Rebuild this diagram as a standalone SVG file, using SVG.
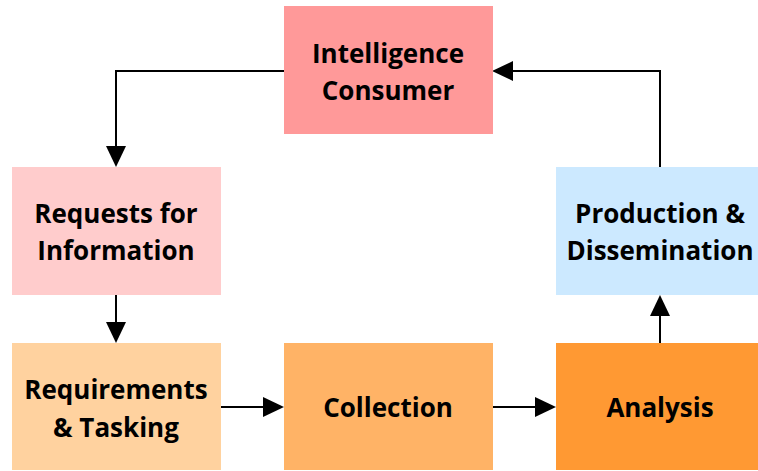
<svg xmlns="http://www.w3.org/2000/svg" width="758" height="471" viewBox="0 0 758 471">
<style>
.t{font-family:"Open Sans","DejaVu Sans",sans-serif;font-weight:bold;font-size:26px;fill:#000;text-anchor:middle}
.c{fill:none;stroke:#000;stroke-width:2}
</style>
<rect width="758" height="471" fill="#fff"/>
<g id="connectors">
<path class="c" d="M284,71 H116 V146"/>
<polygon points="106,146 126,146 116,167"/>
<path class="c" d="M116,295 V322"/>
<polygon points="106,322 126,322 116,343"/>
<path class="c" d="M220,407 H263"/>
<polygon points="263,397 263,417 284,407"/>
<path class="c" d="M492,407 H535"/>
<polygon points="535,397 535,417 556,407"/>
<path class="c" d="M660,343 V316"/>
<polygon points="650,316 670,316 660,295"/>
<path class="c" d="M660,167 V71 H513"/>
<polygon points="513,61 513,81 492,71"/>
</g>
<g id="consumer">
<rect x="284" y="6" width="209" height="128" fill="#ff9999"/>
<text class="t" x="388" y="63">Intelligence</text>
<text class="t" x="388" y="100">Consumer</text>
</g>
<g id="requests">
<rect x="12" y="167" width="209" height="128" fill="#ffcccc"/>
<text class="t" x="116" y="223">Requests for</text>
<text class="t" x="116" y="260">Information</text>
</g>
<g id="production">
<rect x="556" y="167" width="202" height="128" fill="#cce9ff"/>
<text class="t" x="660" y="223">Production &amp;</text>
<text class="t" x="660" y="260">Dissemination</text>
</g>
<g id="requirements">
<rect x="12" y="343" width="209" height="127" fill="#ffd29f"/>
<text class="t" x="116" y="399">Requirements</text>
<text class="t" x="116" y="437">&amp; Tasking</text>
</g>
<g id="collection">
<rect x="284" y="343" width="209" height="127" fill="#ffb366"/>
<text class="t" x="388" y="417">Collection</text>
</g>
<g id="analysis">
<rect x="556" y="343" width="202" height="127" fill="#ff9933"/>
<text class="t" x="660" y="417">Analysis</text>
</g>
</svg>
